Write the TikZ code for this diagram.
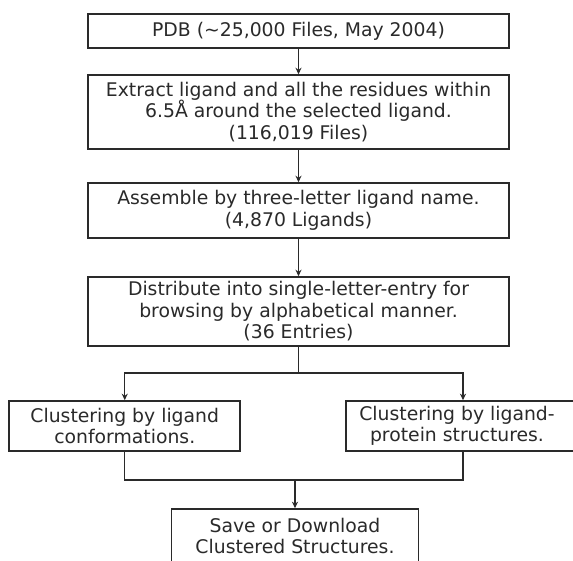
\documentclass[tikz,border=0pt]{standalone}
\usepackage{fontspec}
\setmainfont{DejaVu Sans}
\usetikzlibrary{arrows.meta}
\definecolor{ink}{HTML}{2A2A2A}
\tikzset{
  flowbox/.style={draw=ink, line width=1.6pt, fill=white, text=ink, align=center,
    inner sep=0pt, font=\fontsize{18.8}{21.5}\selectfont},
  conn/.style={draw=ink, line width=1.1pt},
  arr/.style={conn, -{Stealth[length=6.5pt,width=6pt]}}
}
\begin{document}
\begin{tikzpicture}[x=1pt,y=1pt]
\useasboundingbox (0,0) rectangle (573,-561);
\clip (0,0) rectangle (573,-561);
\fill[white] (0,0) rectangle (573,-561);
\node[flowbox, minimum width=421, minimum height=34] (b1) at (298.5,-31)
  {PDB (\char"7E 25,000 Files, May 2004)};
\node[flowbox, minimum width=421, minimum height=74] (b2) at (298.5,-112)
  {Extract ligand and all the residues within\\ 6.5Å around the selected ligand.\\ (116,019 Files)};
\node[flowbox, minimum width=421, minimum height=55] (b3) at (298.5,-210.5)
  {Assemble by three-letter ligand name.\\ (4,870 Ligands)};
\node[flowbox, minimum width=421, minimum height=69] (b4) at (298.5,-311.5)
  {Distribute into single-letter-entry for\\ browsing by alphabetical manner.\\ (36 Entries)};
\node[flowbox, minimum width=231, minimum height=50] (cl) at (124.75,-426)
  {Clustering by ligand\\ conformations.};
\node[flowbox, minimum width=234, minimum height=50] (cr) at (463,-426)
  {\hspace*{-12pt}Clustering by ligand-\\ \hspace*{-12pt}protein structures.};
\node[flowbox, minimum width=247, minimum height=54] (sv) at (295,-536)
  {Save or Download\\ Clustered Structures.};
\coordinate (sp) at (298.5,-373);
\coordinate (mg) at (295,-480);
\draw[arr] (b1) -- (b2);
\draw[arr] (b2) -- (b3);
\draw[arr] (b3) -- (b4);
\draw[conn] (b4.south) -- (sp);
\draw[arr] (sp) -| (cl.north);
\draw[arr] (sp) -| (cr.north);
\draw[conn] (cl.south) |- (mg) -| (cr.south);
\draw[arr] (mg) -- (sv.north);
\end{tikzpicture}
\end{document}
